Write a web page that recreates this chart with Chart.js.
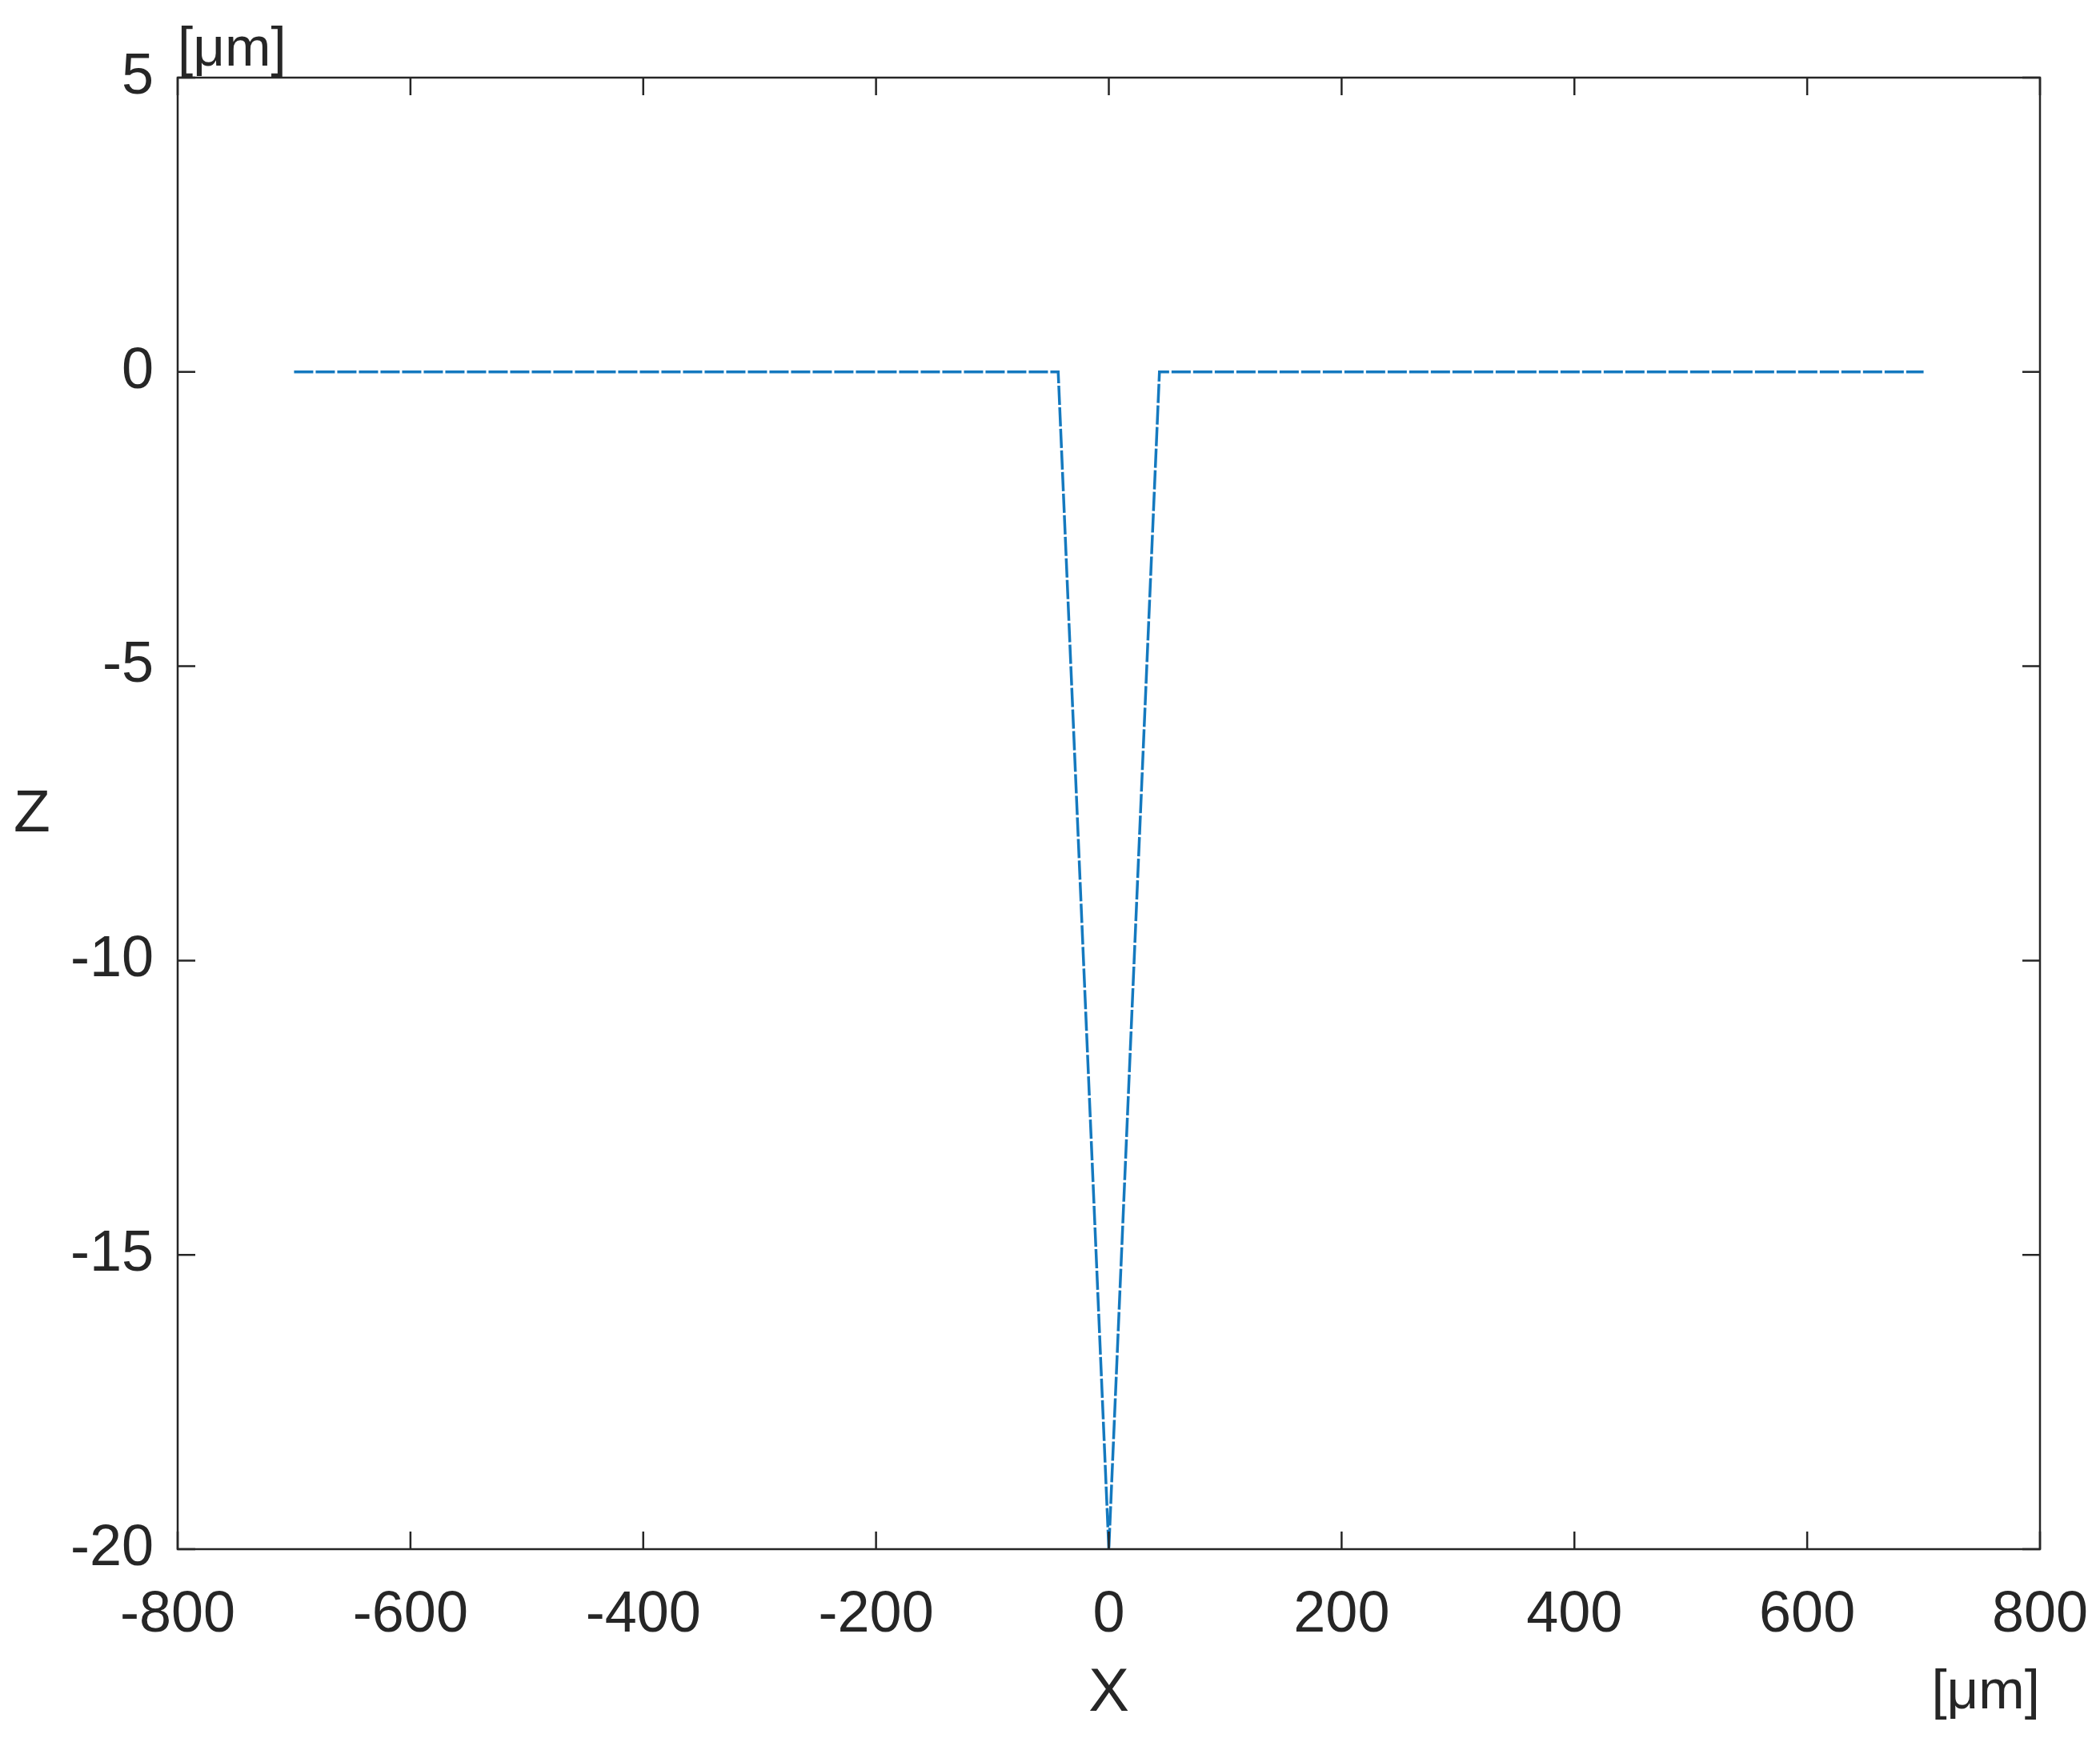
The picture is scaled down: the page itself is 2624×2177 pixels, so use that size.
<!DOCTYPE html>
<html>
<head>
<meta charset="utf-8">
<script src="https://cdn.jsdelivr.net/npm/chart.js@4.4.1/dist/chart.umd.min.js"></script>
<style>
  html, body { margin: 0; padding: 0; background: #fff; }
  canvas { display: block; }
</style>
</head>
<body>
<canvas id="profile-chart" width="2624" height="2177"></canvas>
<script>
// groove profile, X and Z both in µm
const xValues = [-700, -43.5, 0, 43.5, 700];
const zValues = [0, 0, -20, 0, 0];

const xTicks = [-800, -600, -400, -200, 0, 200, 400, 600, 800];
const zTicks = [-20, -15, -10, -5, 0, 5];

const xTitle = 'X';
const zTitle = 'Z';
const unitLabel = '[μm]';

const ink = '#262626';
const font = '"Liberation Sans", Arial, Helvetica, sans-serif';

// MATLAB-style box: frame all round, ticks pointing inward, upright Z label
const frameAndLabels = {
    id: 'frameAndLabels',
    afterDraw(chart) {
        const ctx = chart.ctx;
        const a = chart.chartArea;
        const x = chart.scales.x;
        const y = chart.scales.y;
        const tickLen = 22;

        ctx.save();
        ctx.strokeStyle = ink;
        ctx.lineWidth = 2.5;
        ctx.strokeRect(a.left, a.top, a.right - a.left, a.bottom - a.top);

        ctx.beginPath();
        x.ticks.forEach(t => {
            const px = x.getPixelForValue(t.value);
            ctx.moveTo(px, a.bottom); ctx.lineTo(px, a.bottom - tickLen);
            ctx.moveTo(px, a.top); ctx.lineTo(px, a.top + tickLen);
        });
        y.ticks.forEach(t => {
            const py = y.getPixelForValue(t.value);
            ctx.moveTo(a.left, py); ctx.lineTo(a.left + tickLen, py);
            ctx.moveTo(a.right, py); ctx.lineTo(a.right - tickLen, py);
        });
        ctx.stroke();

        ctx.fillStyle = ink;
        ctx.font = '75px ' + font;
        ctx.textAlign = 'center';
        ctx.textBaseline = 'middle';
        ctx.fillText(zTitle, 40, (a.top + a.bottom) / 2 + 2);

        ctx.font = '69px ' + font;
        ctx.textBaseline = 'alphabetic';
        ctx.textAlign = 'left';
        ctx.fillText(unitLabel, a.left, 82);
        ctx.textAlign = 'right';
        ctx.fillText(unitLabel, a.right, 2135);
        ctx.restore();
    }
};

const ctx = document.getElementById('profile-chart').getContext('2d');

new Chart(ctx, {
    type: 'scatter',
    data: {
        datasets: [{
            label: 'profile',
            data: xValues.map((v, i) => ({ x: v, y: zValues[i] })),
            showLine: true,
            borderColor: '#1479BF',
            borderWidth: 3.5,
            borderDash: [24, 3],
            pointRadius: 0,
            fill: false,
            tension: 0
        }]
    },
    options: {
        responsive: false,
        devicePixelRatio: 1,
        animation: false,
        layout: {
            padding: { left: 0, top: 97, right: 75, bottom: 0 }
        },
        plugins: {
            legend: { display: false },
            tooltip: { enabled: false }
        },
        scales: {
            x: {
                type: 'linear',
                min: -800,
                max: 800,
                grid: { display: false },
                border: { display: false },
                afterBuildTicks: scale => { scale.ticks = xTicks.map(v => ({ value: v })); },
                afterFit: scale => {
                    scale.height = 241;
                    scale.paddingLeft = 0;
                    scale.paddingRight = 0;
                },
                ticks: {
                    color: ink,
                    padding: 32,
                    maxRotation: 0,
                    font: { family: font, size: 72 },
                    callback: v => String(v)
                },
                title: {
                    display: true,
                    text: xTitle,
                    color: ink,
                    font: { family: font, size: 76 },
                    padding: { top: 0, bottom: 14 }
                }
            },
            y: {
                type: 'linear',
                min: -20,
                max: 5,
                grid: { display: false },
                border: { display: false },
                afterBuildTicks: scale => { scale.ticks = zTicks.map(v => ({ value: v })); },
                afterFit: scale => {
                    scale.width = 222;
                    scale.paddingTop = 0;
                    scale.paddingBottom = 0;
                },
                ticks: {
                    color: ink,
                    padding: 22,
                    font: { family: font, size: 72 },
                    callback: v => String(v)
                }
            }
        }
    },
    plugins: [frameAndLabels]
});
</script>
</body>
</html>
